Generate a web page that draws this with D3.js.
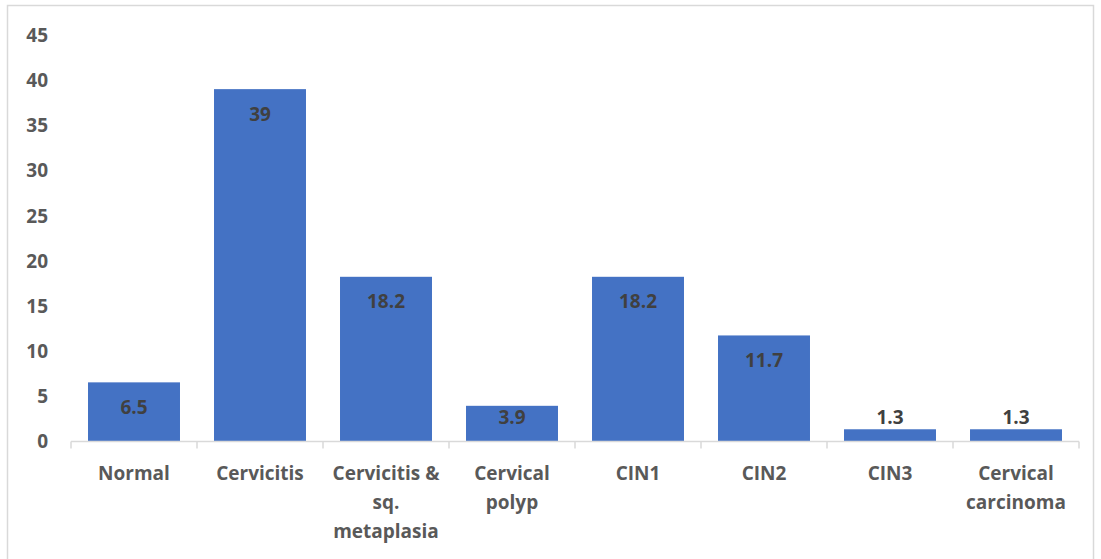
<!DOCTYPE html>
<html>
<head>
<meta charset="utf-8">
<script src="https://cdn.jsdelivr.net/npm/d3@7"></script>
<style>
  body { margin: 0; background: #fff; }
  text { font-family: "Open Sans", "Liberation Sans", sans-serif; font-weight: bold; }
</style>
</head>
<body>
<div id="chart"></div>
<script>
// categories and values
var categories = [["Normal"], ["Cervicitis"], ["Cervicitis &", "sq.", "metaplasia"], ["Cervical", "polyp"],
                  ["CIN1"], ["CIN2"], ["CIN3"], ["Cervical", "carcinoma"]];
var values = [6.5, 39, 18.2, 3.9, 18.2, 11.7, 1.3, 1.3];
var yTicks = [0, 5, 10, 15, 20, 25, 30, 35, 40, 45];

var W = 1101, H = 559;
var margin = {top: 35, left: 71, right: 22, bottom: 118};

var svg = d3.select("#chart").append("svg").attr("width", W).attr("height", H);

// chart border
svg.append("rect")
    .attr("x", 7.5).attr("y", 5.5)
    .attr("width", W - 15).attr("height", H)
    .attr("fill", "none").attr("stroke", "#d9d9d9").attr("stroke-width", 1.5);

var data = values.map(function(v, i) { return {label: categories[i], key: i, value: v}; });

var xScale = d3.scaleBand()
    .domain(d3.range(data.length))
    .range([margin.left, W - margin.right])
    .paddingInner(0.27).paddingOuter(0.135);

var yScale = d3.scaleLinear()
    .domain([0, 45])
    .range([H - margin.bottom, margin.top]);

// y-as (labels only)
var yAxis = d3.axisLeft(yScale).tickValues(yTicks).tickSize(0).tickPadding(0);
var gy = svg.append("g")
    .attr("transform", "translate(" + [48, 0] + ")")
    .call(yAxis);
gy.select(".domain").remove();
gy.selectAll("text").attr("fill", "#595959").style("font-size", "19px").attr("dy", "0.35em");

// bars
svg.selectAll(".bar")
    .data(data).enter().append("rect")
      .attr("class", "bar")
      .attr("x", function(d) { return xScale(d.key); })
      .attr("y", function(d) { return yScale(d.value); })
      .attr("width", xScale.bandwidth())
      .attr("height", function(d) { return yScale(0) - yScale(d.value); })
      .attr("fill", "#4472c4");

// x-as line with ticks between categories
var x0 = margin.left, x1 = W - margin.right;
var base = yScale(0) + 0.5;
svg.append("line")
    .attr("x1", x0).attr("x2", x1).attr("y1", base).attr("y2", base)
    .attr("stroke", "#d9d9d9").attr("stroke-width", 1.5);
svg.selectAll(".tick-x")
    .data(d3.range(data.length + 1)).enter().append("line")
      .attr("class", "tick-x")
      .attr("x1", function(i) { return x0 + i * (x1 - x0) / data.length; })
      .attr("x2", function(i) { return x0 + i * (x1 - x0) / data.length; })
      .attr("y1", base).attr("y2", base + 7)
      .attr("stroke", "#d9d9d9").attr("stroke-width", 1.5);

// category labels
var cats = svg.selectAll(".cat")
    .data(data).enter().append("text")
      .attr("class", "cat")
      .attr("text-anchor", "middle")
      .attr("fill", "#595959")
      .style("font-size", "19px");
cats.each(function(d) {
  var t = d3.select(this);
  var cx = xScale(d.key) + xScale.bandwidth() / 2;
  d.label.forEach(function(line, j) {
    t.append("tspan").attr("x", cx).attr("y", 480 + j * 29).text(line);
  });
});

// data labels
svg.selectAll(".val")
    .data(data).enter().append("text")
      .attr("class", "val")
      .attr("text-anchor", "middle")
      .attr("fill", "#404040")
      .style("font-size", "19px")
      .attr("x", function(d) { return xScale(d.key) + xScale.bandwidth() / 2; })
      .attr("y", function(d) { return Math.min(yScale(d.value) + 25, yScale(0) - 24); })
      .attr("dy", "0.35em")
      .text(function(d) { return d.value; });
</script>
</body>
</html>
